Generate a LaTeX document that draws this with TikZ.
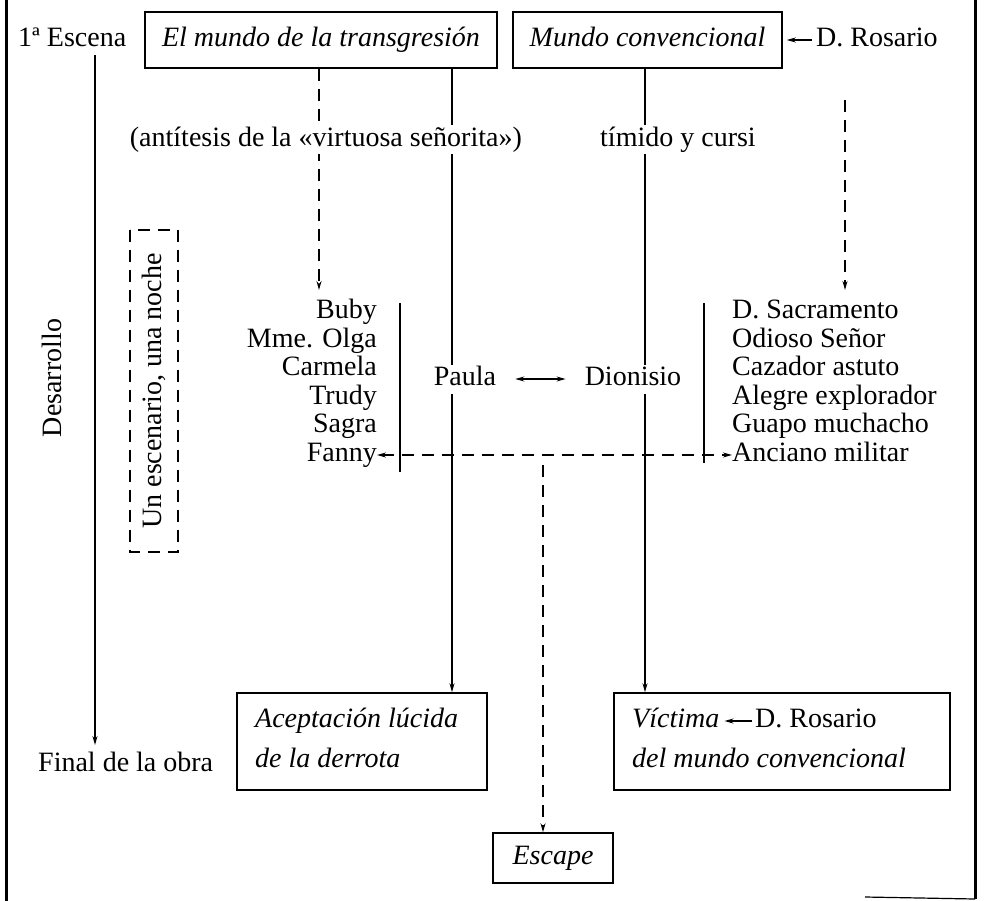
\documentclass[tikz,border=0pt]{standalone}
\usepackage{fontspec}
\setmainfont{Liberation Serif}
\usetikzlibrary{arrows.meta,backgrounds}
\begin{document}
\begin{tikzpicture}[x=1pt,y=-1pt,
  every node/.style={font=\fontsize{28}{28.6}\selectfont, inner sep=0pt},
  txt/.style={text height=19pt, text depth=6pt},
  box/.style={draw, line width=1.5pt, font=\fontsize{28}{40}\selectfont\itshape},
  ln/.style={line width=1.3pt},
  dsh/.style={line width=1.3pt, dash pattern=on 12pt off 8pt},
  arr/.style={-{Stealth[length=9pt,width=5pt]}},
  darr/.style={{Stealth[length=9pt,width=5pt]}-{Stealth[length=9pt,width=5pt]}},
  gap/.style={fill=white, inner xsep=3pt, inner ysep=2pt}]
\useasboundingbox (0,0) rectangle (984,901);

% frame
\coordinate (f1) at (6,0); \coordinate (f2) at (6,901);
\coordinate (f3) at (975,0); \coordinate (f4) at (975,899);
\coordinate (f5) at (865,897);
\draw[line width=3pt] (f1) -- (f2);
\draw[line width=3pt] (f3) -- (f4);
\draw[line width=1.2pt] (f5) -- (f4);

% top row
\node[txt, anchor=west] (esc) at (18,40) {1ª Escena};
\node[box, txt, minimum width=352, minimum height=56] (b1) at (321,40) {El mundo de la transgresión};
\node[box, txt, minimum width=269, minimum height=56] (b2) at (647.5,40) {Mundo convencional};
\node[txt, anchor=west] (ros) at (816,40) {D. Rosario};

% labels
\node[txt, gap, anchor=east] (ant) at (525,140) {(antítesis de la «virtuosa señorita»)};
\node[txt, gap, anchor=west] (tim) at (597,140) {tímido y cursi};
\node[txt, rotate=90] (des) at (55,378) {Desarrollo};
\node[draw, dsh, rotate=90, minimum width=322, minimum height=48] (scen) at (154,391) {Un escenario, una noche};

% left names
\node[txt, anchor=east] (n1) at (377,312) {Buby};
\node[txt, anchor=east] (n2) at (377,340.6) {Mme. Olga};
\node[txt, anchor=east] (n3) at (377,369.2) {Carmela};
\node[txt, anchor=east] (n4) at (377,397.8) {Trudy};
\node[txt, anchor=east] (n5) at (377,426.4) {Sagra};
\node[txt, anchor=east] (n6) at (377,455) {Fanny};
% right names
\node[txt, anchor=west] (m1) at (732,312) {D. Sacramento};
\node[txt, anchor=west] (m2) at (732,340.6) {Odioso Señor};
\node[txt, anchor=west] (m3) at (732,369.2) {Cazador astuto};
\node[txt, anchor=west] (m4) at (732,397.8) {Alegre explorador};
\node[txt, anchor=west] (m5) at (732,426.4) {Guapo muchacho};
\node[txt, anchor=west] (m6) at (732,455) {Anciano militar};

% centre
\node[txt, gap] (pau) at (465,379) {Paula};
\node[txt, gap] (dio) at (633,379) {Dionisio};

% bottom
\node[txt, anchor=west] (fin) at (38,765) {Final de la obra};
\node[box, minimum width=250, minimum height=97] (acep) at (362,741.5) {};
\node[txt, anchor=west, font=\fontsize{28}{28.6}\selectfont\itshape] (ac1) at (255,721) {Aceptación lúcida};
\node[txt, anchor=west, font=\fontsize{28}{28.6}\selectfont\itshape] (ac2) at (255,761) {de la derrota};
\node[box, minimum width=336, minimum height=97] (vbox) at (782,741.5) {};
\node[txt, anchor=west, font=\fontsize{28}{28.6}\selectfont\itshape] (vic) at (632,721) {Víctima};
\node[txt, anchor=west] (vros) at (755,721) {D. Rosario};
\node[txt, anchor=west, font=\fontsize{28}{28.6}\selectfont\itshape] (vdel) at (632,761) {del mundo convencional};
\node[box, txt, minimum width=120, minimum height=50] (escp) at (553,858) {Escape};

% helper coordinates
\coordinate (el) at (95,55); \coordinate (elb) at (95,745);
\coordinate (da) at (319,290);
\coordinate (pl) at (452,0);
\coordinate (dl) at (645,0);
\coordinate (rs) at (845,100); \coordinate (ra) at (845,290);
\coordinate (lb1) at (400,303); \coordinate (lb2) at (400,472);
\coordinate (rb1) at (704,303); \coordinate (rb2) at (704,463);
\coordinate (es) at (543,465);

\begin{scope}[on background layer]
\draw[ln, arr] (el) -- (elb);
\draw[dsh, arr] (b1.south -| da) -- (da);
\draw[ln, arr] (b1.south -| pl) -- (acep.north -| pl);
\draw[ln, arr] (b2.south -| dl) -- (vbox.north -| dl);
\draw[dsh, arr] (rs) -- (ra);
\draw[ln] (lb1) -- (lb2);
\draw[ln] (rb1) -- (rb2);
\draw[dsh, darr] (n6.east) -- (m6.west);
\draw[dsh, arr] (es) -- (escp.north -| es);
\end{scope}
\draw[ln, arr, shorten <=4pt, shorten >=4pt] (ros.west) -- (b2.east);
\draw[ln, darr, shorten <=16pt, shorten >=16pt] (pau.east) -- (dio.west);
\draw[ln, arr, shorten <=3pt, shorten >=5pt] (vros.west) -- (vic.east);
\end{tikzpicture}
\end{document}
